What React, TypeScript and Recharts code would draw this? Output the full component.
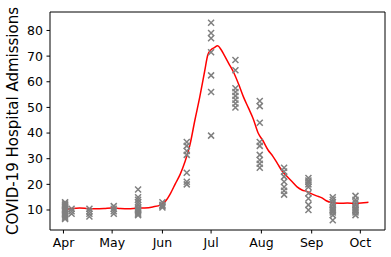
import React from 'react';
import { ComposedChart, Line, Scatter, XAxis, YAxis } from 'recharts';

// days counted from Apr 1
const monthTicks = [0, 30, 61, 91, 122, 153, 183];
const monthLabels = ['Apr', 'May', 'Jun', 'Jul', 'Aug', 'Sep', 'Oct'];
const yTicks = [10, 20, 30, 40, 50, 60, 70, 80];

// observed admissions, grouped by sampling day
const sampleDays = [1, 5, 16, 31, 46, 61, 76, 91, 106, 121, 136, 151, 166, 180];
const sampleValues = [
  [13, 12.5, 12, 11.5, 11, 10.5, 10, 9.5, 9, 8.5, 8, 7.5, 7, 6.5],
  [10.5, 9.5, 8.5],
  [10.5, 9.5, 8.5, 7.5],
  [11.5, 10.5, 9.5, 8.5],
  [18, 15, 14, 13, 12, 11, 10.5, 10, 9.5, 9, 8.5, 8],
  [13, 12, 11.5, 11],
  [36.5, 35, 33, 31.5, 24.5, 21, 20],
  [83, 79, 77, 71.5, 62.5, 56, 39],
  [68.5, 64.5, 57.5, 56, 54.5, 53, 51.5, 50],
  [52.5, 50.5, 44, 36.5, 35, 31.5, 29.5, 28, 26.5],
  [26.5, 25, 23, 21, 19, 17.5, 16],
  [22.5, 21.5, 21, 20, 19, 16.5, 14.5, 12, 10],
  [15, 14, 13, 12, 11, 10.5, 10, 9.5, 9, 8, 6],
  [15.5, 14, 13, 12, 11, 10.5, 10, 9.5, 9, 8],
];

// smoothed trend
const trendDays = [
  0, 5, 10, 15, 20, 25, 30, 35, 40, 45, 50, 55, 60, 63, 66, 69, 72, 75, 78, 81, 84, 87, 89, 91,
  93, 95, 97, 99, 102, 105, 108, 111, 114, 117, 120, 123, 126, 129, 132, 135, 138, 141, 144,
  147, 150, 153, 156, 159, 162, 165, 170, 175, 180, 185, 188,
];
const trendValues = [
  10.2, 10.6, 10.8, 10.6, 10.5, 10.6, 10.8, 10.6, 10.5, 10.7, 10.8, 11.2, 12.0, 13.5, 16.5,
  20.3, 24, 29, 35.5, 45, 54, 64, 70.5, 72.5, 73.3, 74, 72.7, 70.5, 67, 63.5, 59, 54, 49.8,
  45.5, 40, 37, 33.5, 31, 28, 25, 23, 21, 19, 17.8, 17.2, 16.3, 15.5, 14.8, 13.6, 12.9, 12.6,
  12.7, 12.5, 12.8, 13,
];

const samples = sampleDays.flatMap((day, i) => sampleValues[i].map((value) => ({ day, value })));
const trend = trendDays.map((day, i) => ({ day, value: trendValues[i] }));

const font = 'DejaVu Sans, sans-serif';
const xDomain: [number, number] = [-8.3, 198.2];
const yDomain: [number, number] = [2.2, 87.2];

const Cross = (props: any) => {
  const { cx, cy } = props;
  const r = 3;
  return (
    <path
      d={`M${cx - r},${cy - r}L${cx + r},${cy + r}M${cx - r},${cy + r}L${cx + r},${cy - r}`}
      stroke="#808080"
      strokeWidth={1.5}
      fill="none"
    />
  );
};

const YLabel = (props: any) => {
  const { viewBox } = props;
  const x = 17.5;
  const y = viewBox.y + viewBox.height / 2;
  return (
    <text
      x={x}
      y={y}
      transform={`rotate(-90, ${x}, ${y})`}
      textAnchor="middle"
      fontSize={15}
      fontFamily={font}
      fill="#000"
    >
      COVID-19 Hospital Admissions
    </text>
  );
};

export default function App() {
  return (
    <div style={{ position: 'absolute', left: 0, top: 0 }}>
      <ComposedChart width={391} height={257} margin={{ top: 11, right: 5, bottom: 0, left: 0 }}>
        <XAxis
          dataKey="day"
          type="number"
          domain={xDomain}
          allowDataOverflow
          ticks={monthTicks}
          tickFormatter={(v: number) => monthLabels[monthTicks.indexOf(v)]}
          height={27}
          tickSize={3.5}
          tickMargin={4.5}
          stroke="#000"
          tick={{ fill: '#000', fontSize: 12.5, fontFamily: font }}
        />
        <XAxis
          xAxisId="top"
          orientation="top"
          type="number"
          domain={xDomain}
          height={1}
          tick={false}
          tickLine={false}
          stroke="#000"
        />
        <YAxis
          dataKey="value"
          type="number"
          domain={yDomain}
          allowDataOverflow
          ticks={yTicks}
          width={50}
          tickSize={3.5}
          tickMargin={3.5}
          stroke="#000"
          tick={{ fill: '#000', fontSize: 12.5, fontFamily: font }}
          label={{ content: YLabel }}
        />
        <YAxis
          yAxisId="right"
          orientation="right"
          type="number"
          domain={yDomain}
          width={1}
          tick={false}
          tickLine={false}
          stroke="#000"
        />
        <Scatter data={samples} dataKey="value" shape={Cross} isAnimationActive={false} />
        <Line
          data={trend}
          dataKey="value"
          type="monotone"
          stroke="#ff0000"
          strokeWidth={1.5}
          dot={false}
          isAnimationActive={false}
        />
      </ComposedChart>
    </div>
  );
}
